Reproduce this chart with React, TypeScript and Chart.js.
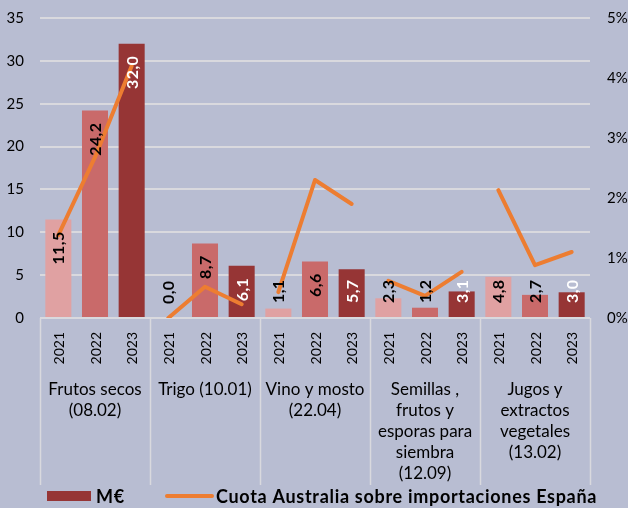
import React, { useEffect, useRef } from 'react';
import { Chart, registerables } from 'chart.js';

Chart.register(...registerables);

const years = ['2021', '2022', '2023'];
const groupLabels: string[][] = [
  ['Frutos secos', '(08.02)'],
  ['Trigo (10.01)'],
  ['Vino y mosto', '(22.04)'],
  ['Semillas ,', 'frutos y', 'esporas para', 'siembra', '(12.09)'],
  ['Jugos y', 'extractos', 'vegetales', '(13.02)'],
];
const valuesMEUR = [11.5, 24.2, 32.0, 0.0, 8.7, 6.1, 1.1, 6.6, 5.7, 2.3, 1.2, 3.1, 4.8, 2.7, 3.0];
const shareAustralia = [1.38, 2.68, 4.2, 0.0, 0.52, 0.23, 0.43, 2.3, 1.9, 0.62, 0.37, 0.77, 2.13, 0.88, 1.1];
const leftMax = 35;
const leftStep = 5;
const rightMax = 5;
const rightStep = 1;
const legendBar = 'M€';
const legendLine = 'Cuota Australia sobre importaciones España';

const BG = '#B8BDD2';
const GRID = '#D9D9DE';
const YEAR_COLORS = ['#E0A1A2', '#C96A6A', '#963535'];
const LABEL_COLORS = ['#000000', '#000000', '#FFFFFF'];
const ORANGE = '#ED7D31';
const FONT = 'Lato, "Open Sans", sans-serif';

const xLabels: string[] = [];
groupLabels.forEach(() => years.forEach((y) => xLabels.push(y)));

const customPlugin = {
  id: 'custom',
  beforeDraw(chart: any) {
    const ctx = chart.ctx;
    ctx.save();
    ctx.fillStyle = BG;
    ctx.fillRect(0, 0, chart.width, chart.height);
    ctx.restore();
  },
  afterDatasetsDraw(chart: any) {
    const ctx = chart.ctx;
    const barIdx = chart.data.datasets.findIndex((d: any) => d.type === 'bar');
    const meta = chart.getDatasetMeta(barIdx);
    ctx.save();
    ctx.font = `bold 16px ${FONT}`;
    (ctx as any).letterSpacing = '0.4px';
    meta.data.forEach((el: any, i: number) => {
      const v = valuesMEUR[i];
      const text = v.toFixed(1).replace('.', ',');
      const w = ctx.measureText(text).width;
      const end = el.y + 12;
      let start = end + w;
      const limit = el.base - 14;
      if (start > limit) {
        start = limit;
      }
      ctx.save();
      ctx.translate(el.x, start);
      ctx.rotate(-Math.PI / 2);
      ctx.fillStyle = LABEL_COLORS[i % 3];
      ctx.textAlign = 'left';
      ctx.textBaseline = 'middle';
      ctx.fillText(text, 0, 1);
      ctx.restore();
    });
    ctx.restore();
  },
  afterDraw(chart: any) {
    const ctx = chart.ctx;
    const xs = chart.scales.x;
    const area = chart.chartArea;
    const n = xLabels.length;
    const slot = (area.right - area.left) / n;
    ctx.save();
    // separators
    ctx.strokeStyle = GRID;
    ctx.lineWidth = 1.5;
    for (let g = 0; g <= groupLabels.length; g++) {
      const x = Math.round(xs.getPixelForValue(g * 3) - slot / 2) + 0.5;
      ctx.beginPath();
      ctx.moveTo(x, area.bottom);
      ctx.lineTo(x, 485);
      ctx.stroke();
    }
    // year labels
    ctx.fillStyle = '#000';
    ctx.font = `14px ${FONT}`;
    xLabels.forEach((lab, i) => {
      const x = xs.getPixelForValue(i);
      ctx.save();
      ctx.translate(x, area.bottom + 14);
      ctx.rotate(-Math.PI / 2);
      ctx.textAlign = 'right';
      ctx.textBaseline = 'middle';
      ctx.fillText(lab, 0, 1);
      ctx.restore();
    });
    // group labels
    ctx.font = `17px ${FONT}`;
    ctx.textAlign = 'center';
    ctx.textBaseline = 'middle';
    groupLabels.forEach((lines, g) => {
      const cx = (xs.getPixelForValue(g * 3) + xs.getPixelForValue(g * 3 + 2)) / 2;
      lines.forEach((line, k) => {
        ctx.fillText(line, cx, 390 + k * 21);
      });
    });
    // legend
    const ly = 496;
    ctx.fillStyle = YEAR_COLORS[2];
    ctx.fillRect(47, ly - 5, 44, 10);
    ctx.font = `bold 18px ${FONT}`;
    (ctx as any).letterSpacing = '0.7px';
    ctx.fillStyle = '#000';
    ctx.textAlign = 'left';
    ctx.fillText(legendBar, 96, ly + 1);
    ctx.strokeStyle = ORANGE;
    ctx.lineWidth = 4;
    ctx.lineCap = 'round';
    ctx.beginPath();
    ctx.moveTo(167, ly);
    ctx.lineTo(212, ly);
    ctx.stroke();
    ctx.fillText(legendLine, 216, ly + 1);
    ctx.restore();
  },
};

const fixY = (width: number) => (s: any) => {
  s.width = width;
  s.paddingTop = 0;
  s.paddingBottom = 0;
};

export default function App() {
  const ref = useRef<HTMLCanvasElement | null>(null);
  useEffect(() => {
    if (!ref.current) return;
    const chart = new Chart(ref.current, {
      type: 'bar',
      data: {
        labels: xLabels,
        datasets: [
          {
            type: 'line',
            label: legendLine,
            data: shareAustralia,
            yAxisID: 'y1',
            borderColor: ORANGE,
            backgroundColor: ORANGE,
            borderWidth: 4,
            pointRadius: 0,
            tension: 0,
            borderCapStyle: 'round',
            borderJoinStyle: 'round',
            order: 0,
            segment: {
              borderColor: (c: any) => (c.p0DataIndex % 3 === 2 ? 'rgba(0,0,0,0)' : ORANGE),
            },
          } as any,
          {
            type: 'bar',
            label: legendBar,
            data: valuesMEUR,
            yAxisID: 'y',
            backgroundColor: valuesMEUR.map((_, i) => YEAR_COLORS[i % 3]),
            categoryPercentage: 1,
            barPercentage: 0.71,
            order: 1,
          } as any,
        ],
      },
      options: {
        responsive: false,
        animation: false,
        layout: { padding: { top: 18, left: 0, right: 0, bottom: 0 } },
        plugins: { legend: { display: false }, tooltip: { enabled: false } },
        scales: {
          x: {
            type: 'category',
            grid: { display: false, drawTicks: false },
            border: { display: false },
            ticks: { display: false },
            afterFit: (s: any) => {
              s.height = 190;
              s.paddingLeft = 0;
              s.paddingRight = 0;
            },
          },
          y: {
            position: 'left',
            min: 0,
            max: leftMax,
            ticks: {
              stepSize: leftStep,
              color: '#000',
              font: { family: FONT, size: 15 },
              padding: 16,
            },
            grid: { color: GRID, lineWidth: 2, drawTicks: false },
            border: { display: false },
            afterFit: fixY(40),
          },
          y1: {
            position: 'right',
            min: 0,
            max: rightMax,
            ticks: {
              stepSize: rightStep,
              color: '#000',
              font: { family: FONT, size: 15 },
              padding: 17,
              callback: (v: any) => `${v}%`,
            },
            grid: { display: false, drawTicks: false },
            border: { display: false },
            afterFit: fixY(38),
          },
        },
      },
      plugins: [customPlugin],
    });
    return () => chart.destroy();
  }, []);
  return (
    <div style={{ position: 'fixed', left: 0, top: 0, width: 628, height: 508, background: BG }}>
      <canvas ref={ref} width={628} height={508} style={{ display: 'block' }} />
    </div>
  );
}
